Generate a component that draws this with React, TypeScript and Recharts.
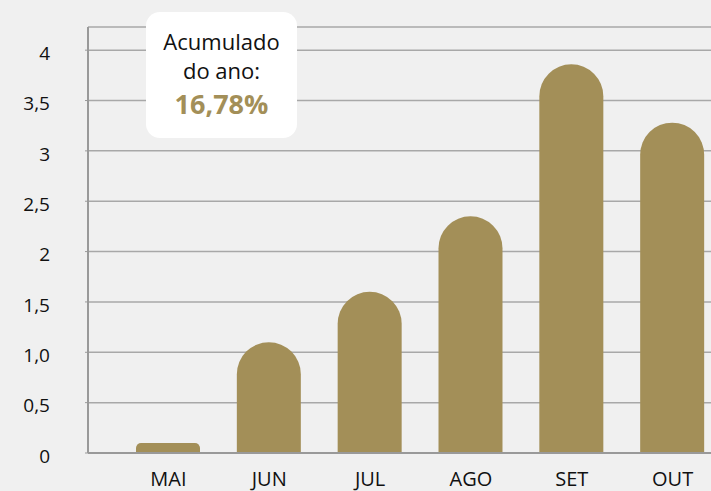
import { BarChart, Bar, XAxis, YAxis, CartesianGrid } from 'recharts';

const months = ['MAI', 'JUN', 'JUL', 'AGO', 'SET', 'OUT'];
const values = [0.1, 1.1, 1.6, 2.35, 3.86, 3.28];
const yTicks = [0, 0.5, 1, 1.5, 2, 2.5, 3, 3.5, 4];
const yLabels = ['0', '0,5', '1,0', '1,5', '2', '2,5', '3', '3,5', '4'];
const boxLines = ['Acumulado', 'do ano:'];
const totalLabel = '16,78%';

const GOLD = '#a38f58';
const FONT = '"Open Sans", sans-serif';

const data = months.map((m, i) => ({ month: m, value: values[i] }));

export default function App() {
  return (
    <div style={{ position: 'absolute', left: 0, top: 0, width: 711, height: 491, overflow: 'hidden', background: '#f0f0f0', fontFamily: FONT }}>
      <BarChart width={723} height={491} data={data} margin={{ top: 27, right: 0, bottom: 0, left: 0 }} barSize={64}>
        <CartesianGrid horizontal vertical={false} stroke="#a8a8a8" strokeWidth={1.5} />
        <XAxis
          dataKey="month"
          height={38}
          padding={{ left: 30, right: 0 }}
          axisLine={{ stroke: '#999', strokeWidth: 2 }}
          tickLine={false}
          tick={{ fontSize: 20, fill: '#111', fontFamily: FONT }}
          tickMargin={13}
        />
        <YAxis
          width={88}
          domain={[0, 4.23]}
          ticks={yTicks}
          interval={0}
          tickFormatter={(v: number) => yLabels[yTicks.indexOf(v)] ?? String(v)}
          axisLine={{ stroke: '#999', strokeWidth: 2 }}
          tickLine={{ stroke: '#999' }}
          tickSize={3}
          tickMargin={35}
          tick={{ fontSize: 19, fill: '#111', fontFamily: FONT, dy: 3 }}
        />
        <Bar dataKey="value" fill={GOLD} radius={[32, 32, 0, 0]} isAnimationActive={false} />
      </BarChart>
      <div style={{ position: 'absolute', left: 146, top: 12, width: 151, height: 126, background: '#fff', borderRadius: 14, textAlign: 'center', color: '#111', fontSize: 22, lineHeight: '29px', paddingTop: 15, boxSizing: 'border-box' }}>
        {boxLines.map((l) => <div key={l}>{l}</div>)}
        <div style={{ color: GOLD, fontWeight: 700, fontSize: 27, lineHeight: '34px', marginTop: 2 }}>{totalLabel}</div>
      </div>
    </div>
  );
}
